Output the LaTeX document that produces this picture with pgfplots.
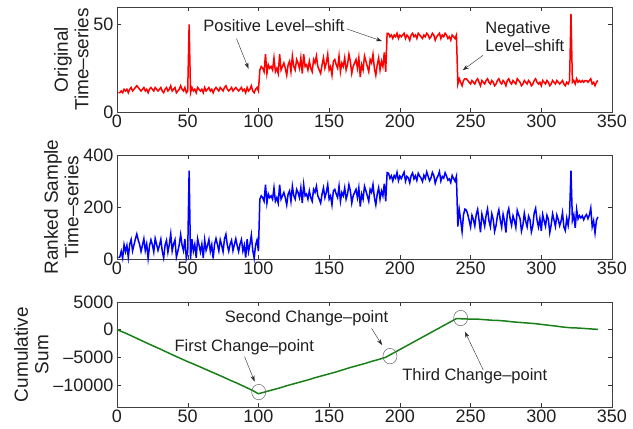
\documentclass[border=0pt]{standalone}
\usepackage{fontspec}
\setmainfont{Liberation Sans}
\usepackage{pgfplots}
\usepackage{pgfplotstable}
\pgfplotsset{compat=1.18}
\usetikzlibrary{arrows.meta}
\definecolor{mgreen}{rgb}{0.1,0.5,0.1}
\definecolor{txt}{rgb}{0.12,0.12,0.12}

\pgfplotstableread[row sep=\\]{y\\
11\\ 11\\ 12\\ 11\\ 13\\ 12\\ 13\\ 11\\ 13\\ 14\\
12\\ 13\\ 14\\ 15\\ 14\\ 13\\ 12\\ 13\\ 14\\ 12\\
13\\ 11\\ 13\\ 14\\ 13\\ 12\\ 14\\ 13\\ 12\\ 13\\
14\\ 12\\ 11\\ 13\\ 14\\ 12\\ 13\\ 15\\ 12\\ 13\\
14\\ 11\\ 12\\ 13\\ 15\\ 13\\ 12\\ 14\\ 11\\ 12\\
50\\ 11\\ 14\\ 12\\ 13\\ 11\\ 14\\ 13\\ 12\\ 13\\
11\\ 14\\ 12\\ 13\\ 14\\ 12\\ 13\\ 11\\ 13\\ 14\\
13\\ 12\\ 14\\ 13\\ 12\\ 14\\ 15\\ 13\\ 12\\ 13\\
14\\ 12\\ 13\\ 14\\ 13\\ 12\\ 13\\ 14\\ 12\\ 13\\
11\\ 14\\ 12\\ 13\\ 15\\ 12\\ 11\\ 13\\ 14\\ 12\\
24\\ 26\\ 25\\ 23\\ 33\\ 22\\ 27\\ 25\\ 26\\ 24\\
31\\ 23\\ 25\\ 22\\ 33\\ 24\\ 26\\ 28\\ 25\\ 21\\
27\\ 29\\ 23\\ 32\\ 26\\ 24\\ 30\\ 28\\ 25\\ 31\\
22\\ 33\\ 26\\ 27\\ 24\\ 29\\ 25\\ 23\\ 30\\ 28\\
32\\ 26\\ 24\\ 22\\ 27\\ 31\\ 25\\ 28\\ 33\\ 24\\
26\\ 21\\ 29\\ 30\\ 27\\ 25\\ 32\\ 23\\ 28\\ 26\\
31\\ 24\\ 27\\ 33\\ 29\\ 22\\ 26\\ 28\\ 30\\ 25\\
31\\ 20\\ 27\\ 24\\ 32\\ 29\\ 26\\ 23\\ 30\\ 28\\
33\\ 25\\ 21\\ 27\\ 31\\ 24\\ 29\\ 26\\ 34\\ 23\\
45\\ 45\\ 43\\ 44\\ 42\\ 44\\ 43\\ 45\\ 42\\ 44\\
43\\ 44\\ 45\\ 42\\ 44\\ 43\\ 41\\ 44\\ 45\\ 43\\
44\\ 42\\ 45\\ 44\\ 43\\ 42\\ 44\\ 43\\ 45\\ 44\\
42\\ 43\\ 45\\ 44\\ 41\\ 43\\ 44\\ 45\\ 42\\ 44\\
43\\ 45\\ 44\\ 42\\ 43\\ 41\\ 44\\ 43\\ 42\\ 44\\
16\\ 19\\ 17\\ 15\\ 18\\ 19\\ 19\\ 18\\ 17\\ 16\\
18\\ 17\\ 16\\ 18\\ 19\\ 17\\ 15\\ 18\\ 17\\ 16\\
18\\ 19\\ 17\\ 16\\ 18\\ 17\\ 15\\ 16\\ 18\\ 19\\
17\\ 16\\ 18\\ 17\\ 15\\ 18\\ 19\\ 17\\ 16\\ 18\\
17\\ 16\\ 19\\ 18\\ 17\\ 15\\ 16\\ 18\\ 17\\ 16\\
18\\ 17\\ 15\\ 16\\ 18\\ 19\\ 17\\ 16\\ 17\\ 15\\
18\\ 17\\ 16\\ 18\\ 17\\ 15\\ 16\\ 18\\ 17\\ 16\\
18\\ 17\\ 16\\ 17\\ 18\\ 16\\ 15\\ 17\\ 16\\ 18\\
56\\ 17\\ 18\\ 16\\ 19\\ 17\\ 18\\ 17\\ 18\\ 17\\
18\\ 18\\ 17\\ 18\\ 19\\ 16\\ 17\\ 15\\ 17\\ 18\\
}\orig

\pgfplotstableread[row sep=\\]{y\\
5\\ 8\\ 30\\ 3\\ 55\\ 28\\ 52\\ 6\\ 57\\ 75\\
31\\ 54\\ 77\\ 96\\ 73\\ 56\\ 29\\ 53\\ 78\\ 32\\
58\\ 2\\ 51\\ 74\\ 55\\ 27\\ 79\\ 57\\ 33\\ 52\\
76\\ 30\\ 4\\ 54\\ 72\\ 26\\ 56\\ 97\\ 31\\ 58\\
74\\ 7\\ 29\\ 55\\ 94\\ 53\\ 32\\ 77\\ 3\\ 28\\
340\\ 1\\ 76\\ 30\\ 56\\ 5\\ 78\\ 54\\ 27\\ 57\\
4\\ 73\\ 33\\ 52\\ 75\\ 29\\ 55\\ 2\\ 58\\ 79\\
56\\ 31\\ 74\\ 53\\ 28\\ 77\\ 95\\ 54\\ 30\\ 57\\
72\\ 32\\ 55\\ 78\\ 51\\ 29\\ 58\\ 75\\ 31\\ 53\\
6\\ 76\\ 28\\ 56\\ 92\\ 33\\ 3\\ 54\\ 73\\ 30\\
230\\ 243\\ 236\\ 222\\ 286\\ 215\\ 250\\ 236\\ 243\\ 230\\
274\\ 222\\ 236\\ 215\\ 286\\ 230\\ 243\\ 256\\ 236\\ 208\\
250\\ 262\\ 222\\ 280\\ 243\\ 230\\ 268\\ 256\\ 236\\ 274\\
215\\ 286\\ 243\\ 250\\ 230\\ 262\\ 236\\ 222\\ 268\\ 256\\
280\\ 243\\ 230\\ 215\\ 250\\ 274\\ 236\\ 256\\ 286\\ 230\\
243\\ 208\\ 262\\ 268\\ 250\\ 236\\ 280\\ 222\\ 256\\ 243\\
274\\ 230\\ 250\\ 286\\ 262\\ 215\\ 243\\ 256\\ 268\\ 236\\
274\\ 202\\ 250\\ 230\\ 280\\ 262\\ 243\\ 222\\ 268\\ 256\\
286\\ 236\\ 208\\ 250\\ 274\\ 230\\ 262\\ 243\\ 290\\ 222\\
332\\ 330\\ 310\\ 320\\ 300\\ 321\\ 311\\ 333\\ 301\\ 319\\
309\\ 322\\ 334\\ 299\\ 318\\ 312\\ 293\\ 321\\ 331\\ 308\\
320\\ 302\\ 330\\ 319\\ 311\\ 298\\ 322\\ 310\\ 335\\ 318\\
301\\ 312\\ 333\\ 321\\ 291\\ 309\\ 320\\ 336\\ 300\\ 317\\
311\\ 332\\ 319\\ 303\\ 308\\ 294\\ 321\\ 310\\ 299\\ 318\\
125\\ 190\\ 150\\ 105\\ 170\\ 192\\ 188\\ 172\\ 148\\ 123\\
168\\ 152\\ 127\\ 171\\ 191\\ 149\\ 103\\ 173\\ 151\\ 126\\
169\\ 193\\ 147\\ 124\\ 174\\ 153\\ 106\\ 128\\ 167\\ 189\\
150\\ 122\\ 172\\ 146\\ 102\\ 175\\ 194\\ 154\\ 129\\ 166\\
148\\ 121\\ 187\\ 170\\ 155\\ 107\\ 130\\ 176\\ 145\\ 124\\
165\\ 151\\ 104\\ 127\\ 177\\ 195\\ 149\\ 123\\ 156\\ 108\\
171\\ 147\\ 126\\ 168\\ 153\\ 101\\ 131\\ 174\\ 150\\ 125\\
169\\ 152\\ 128\\ 146\\ 178\\ 122\\ 109\\ 157\\ 129\\ 173\\
340\\ 148\\ 170\\ 120\\ 191\\ 154\\ 167\\ 158\\ 166\\ 151\\
164\\ 171\\ 155\\ 169\\ 196\\ 124\\ 147\\ 100\\ 149\\ 162\\
}\ranked

\pgfplotstableread{
x y
0 0
5 -520
10 -1100
15 -1700
20 -2300
25 -2880
30 -3450
35 -4050
40 -4650
45 -5220
50 -5800
55 -6320
60 -6880
65 -7450
70 -8000
75 -8560
80 -9150
85 -9700
90 -10300
95 -10900
100 -11600
105 -11250
110 -10900
115 -10550
120 -10150
125 -9800
130 -9450
135 -9100
140 -8700
145 -8350
150 -8000
155 -7650
160 -7250
165 -6850
170 -6500
175 -6150
180 -5750
185 -5400
190 -5000
195 -4300
200 -3600
205 -2900
210 -2200
215 -1500
220 -800
225 -100
230 600
235 1300
240 2000
245 1950
250 1900
255 1900
260 1800
265 1700
270 1650
275 1550
280 1400
285 1300
290 1200
295 1100
300 950
305 800
310 650
315 480
320 350
325 300
330 220
335 130
340 50
}\cusum

\pgfplotsset{mstyle/.style={
  scale only axis, width=495pt, anchor=south west,
  xmin=0, xmax=350, xtick={0,50,...,350},
  tick align=inside, major tick length=4pt,
  tick style={black!80, line width=0.4pt},
  axis line style={black!75, line width=0.5pt},
  ticklabel style={font=\fontsize{18}{20}\selectfont, text=txt},
  xticklabel style={yshift=1pt},
  label style={font=\fontsize{19}{20.5}\selectfont, text=txt},
  ylabel style={align=center, yshift=-2pt},
  /pgf/number format/assume math mode=true,
  scaled ticks=false, clip=false,
}}

\begin{document}
\begin{tikzpicture}[x=1pt,y=1pt]
\path (0,0) rectangle (633,429);

% top
\begin{axis}[mstyle, at={(117pt,317pt)}, height=105pt,
  ymin=0, ymax=60, ytick={0,50},
  ylabel={Original\\Time--series}]
\addplot[red, line width=1.5pt] table[x expr=\coordindex+1, y=y] {\orig};
\node[font=\fontsize{16.5}{18.5}\selectfont, text=txt] at (axis cs:111,49.4) {Positive Level--shift};
\node[font=\fontsize{16.5}{18.5}\selectfont, text=txt, align=left, anchor=west] at (axis cs:258,43) {Negative\\Level--shift};
\draw[-{Stealth[length=6pt,width=4pt]}, black!85, line width=0.4pt] (axis cs:84.5,41.9) -- (axis cs:93,24.8);
\draw[-{Stealth[length=6pt,width=4pt]}, black!85, line width=0.4pt] (axis cs:162.5,47.5) -- (axis cs:187.4,40.5);
\draw[-{Stealth[length=6pt,width=4pt]}, black!85, line width=0.4pt] (axis cs:258.8,32.4) -- (axis cs:244.5,23.9);
\end{axis}

% middle
\begin{axis}[mstyle, at={(117pt,170pt)}, height=104pt,
  ymin=0, ymax=400, ytick={0,200,400},
  ylabel={Ranked Sample\\Time--series}]
\addplot[blue, line width=1.5pt] table[x expr=\coordindex+1, y=y] {\ranked};
\end{axis}

% bottom
\begin{axis}[mstyle, at={(117pt,22pt)}, height=105pt,
  ymin=-14000, ymax=5000, ytick={-10000,-5000,0,5000},
  yticklabels={--10000,--5000,0,5000},
  ylabel={Cumulative\\Sum}]
\addplot[mgreen, line width=1.5pt] table[x=x, y=y] {\cusum};
\addplot[only marks, mark=o, mark size=7pt, black!60, mark options={line width=0.5pt, yscale=1.1}] coordinates {(100.2,-11300) (193,-4800) (243,2100)};
\node[font=\fontsize{16.5}{18.5}\selectfont, text=txt] at (axis cs:134,2000) {Second Change--point};
\node[font=\fontsize{16.5}{18.5}\selectfont, text=txt] at (axis cs:90,-3150) {First Change--point};
\node[font=\fontsize{16.5}{18.5}\selectfont, text=txt] at (axis cs:253,-8400) {Third Change--point};
\draw[-{Stealth[length=6pt,width=4pt]}, black!85, line width=0.4pt] (axis cs:90.2,-4900) -- (axis cs:97.3,-9400);
\draw[-{Stealth[length=6pt,width=4pt]}, black!85, line width=0.4pt] (axis cs:180,230) -- (axis cs:187.4,-2800);
\draw[-{Stealth[length=6pt,width=4pt]}, black!85, line width=0.4pt] (axis cs:259,-7300) -- (axis cs:246,-380);
\end{axis}
\end{tikzpicture}
\end{document}
